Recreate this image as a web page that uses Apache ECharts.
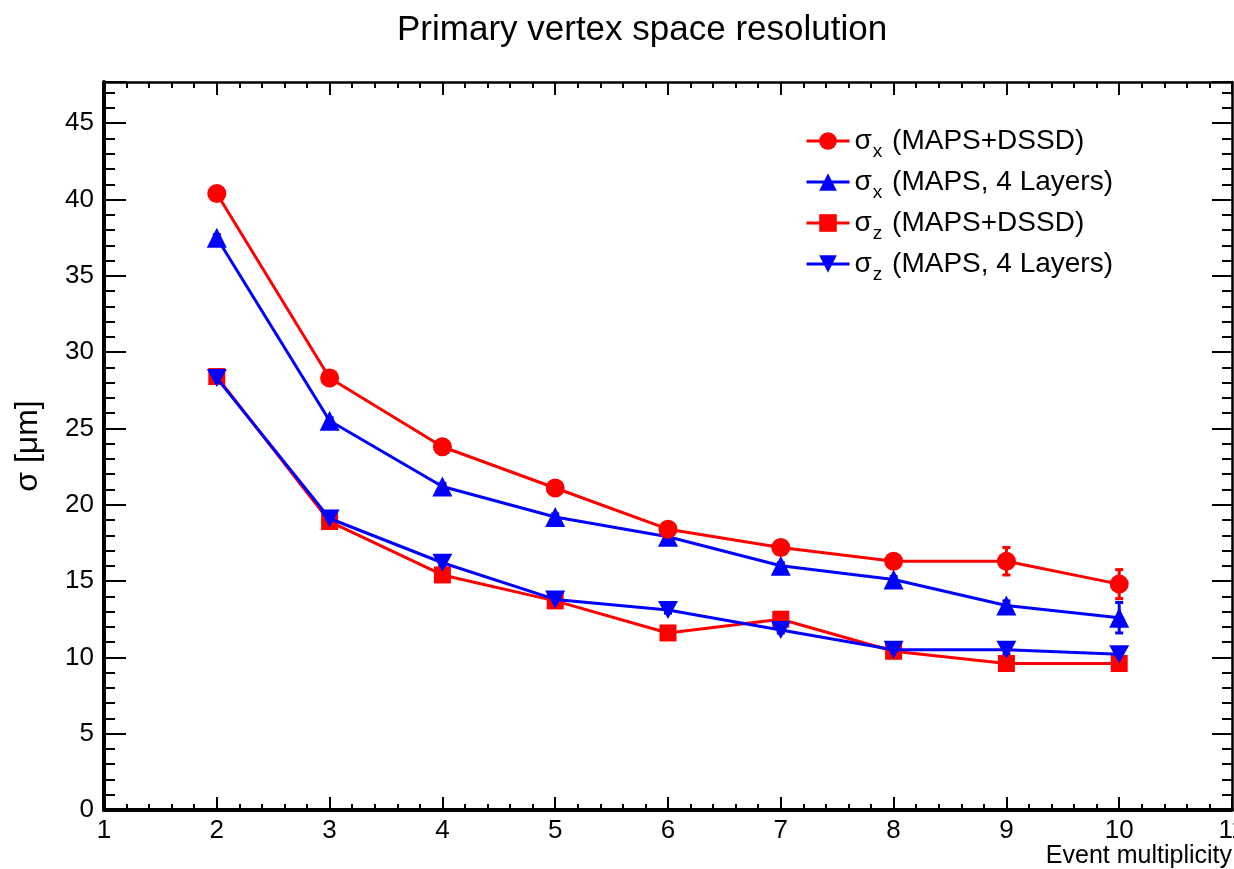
<!DOCTYPE html>
<html>
<head>
<meta charset="utf-8">
<title>Primary vertex space resolution</title>
<script src="https://cdn.jsdelivr.net/npm/echarts@6/dist/echarts.min.js"></script>
<style>
  html, body { margin: 0; padding: 0; background: #fff; overflow: hidden; }
  #main { width: 1234px; height: 869px; }
</style>
</head>
<body>
<div id="main"></div>
<script>
// event multiplicity
var multiplicity = [2, 3, 4, 5, 6, 7, 8, 9, 10];

// sigma x / sigma z in micrometers
var sigmaX_dssd = [40.4, 28.3, 23.8, 21.1, 18.4, 17.2, 16.3, 16.3, 14.8];
var sigmaX_dssd_err = [0.2, 0.2, 0.2, 0.2, 0.2, 0.2, 0.3, 0.9, 0.95];
var sigmaX_maps = [37.5, 25.5, 21.2, 19.2, 17.9, 16.0, 15.1, 13.4, 12.6];
var sigmaX_maps_err = [0.2, 0.2, 0.2, 0.2, 0.2, 0.2, 0.2, 0.3, 1.0];
var sigmaZ_dssd = [28.4, 18.9, 15.4, 13.7, 11.6, 12.5, 10.4, 9.6, 9.6];
var sigmaZ_dssd_err = [0.2, 0.2, 0.2, 0.2, 0.2, 0.2, 0.2, 0.3, 0.3];
var sigmaZ_maps = [28.3, 19.1, 16.2, 13.8, 13.1, 11.8, 10.5, 10.5, 10.2];
var sigmaZ_maps_err = [0.2, 0.2, 0.2, 0.2, 0.2, 0.2, 0.2, 0.3, 0.4];

var names = ['σx (MAPS+DSSD)', 'σx (MAPS, 4 Layers)', 'σz (MAPS+DSSD)', 'σz (MAPS, 4 Layers)'];

var RED = '#ff0000';
var BLUE = '#0000ff';
var FONT = 'Liberation Sans, Arial, Helvetica, sans-serif';

function pairs(xs, ys) {
	var out = [];
	for (var i = 0; i < xs.length; i++) out.push([xs[i], ys[i]]);
	return out;
}
function triples(xs, ys, es) {
	var out = [];
	for (var i = 0; i < xs.length; i++) out.push([xs[i], ys[i], es[i]]);
	return out;
}

// vertical error bars with small caps
function errorBar(color) {
	return function(params, api) {
		var x = api.value(0), y = api.value(1), e = api.value(2);
		var hi = api.coord([x, y + e]);
		var lo = api.coord([x, y - e]);
		var st = { stroke: color, lineWidth: 3 };
		return {
			type: 'group',
			children: [
				{ type: 'line', shape: { x1: hi[0], y1: hi[1], x2: lo[0], y2: lo[1] }, style: st },
				{ type: 'line', shape: { x1: hi[0] - 4, y1: hi[1], x2: hi[0] + 4, y2: hi[1] }, style: st },
				{ type: 'line', shape: { x1: lo[0] - 4, y1: lo[1], x2: lo[0] + 4, y2: lo[1] }, style: st }
			]
		};
	};
}

var downTriangle = 'path://M0,0 L10,0 L5,9 Z';

var myChart = echarts.init(document.getElementById('main'), null, { width: 1234, height: 869 });
var option = {
	backgroundColor: '#fff',
	animation: false,
	title: {
		text: 'Primary vertex space resolution',
		left: 392,
		top: 8,
		textStyle: { fontFamily: FONT, fontSize: 35, fontWeight: 'normal', color: '#000' }
	},
	legend: {
		orient: 'vertical',
		left: 800,
		top: 122,
		itemWidth: 43,
		itemHeight: 22,
		itemGap: 7,
		data: names,
		lineStyle: { width: 3 },
		formatter: function(name) {
			return '{n|σ}{s|' + name.charAt(1) + '}{t|' + name.slice(2) + '}';
		},
		textStyle: {
			color: '#000',
			rich: {
				n: { fontFamily: FONT, fontSize: 28, lineHeight: 30, color: '#000' },
				s: { fontFamily: FONT, fontSize: 19, lineHeight: 19, verticalAlign: 'bottom', color: '#000', padding: [0, 2, -5, 1] },
				t: { fontFamily: FONT, fontSize: 28, lineHeight: 30, color: '#000' }
			}
		}
	},
	grid: { left: 104, right: 2, top: 82, bottom: 59, outerBoundsMode: 'none', containLabel: false },
	xAxis: [{
		type: 'value',
		min: 1,
		max: 11,
		interval: 1,
		name: 'Event multiplicity',
		nameLocation: 'end',
		nameGap: 0,
		nameTextStyle: { fontFamily: FONT, fontSize: 25, color: '#000', align: 'right', verticalAlign: 'top', padding: [34, 0, 0, 0] },
		axisLine: { show: true, onZero: false, lineStyle: { color: '#000', width: 4 } },
		axisTick: { inside: true, length: 13, lineStyle: { color: '#000', width: 2 } },
		minorTick: { show: true, splitNumber: 5, length: 6, lineStyle: { color: '#000', width: 2 } },
		axisLabel: { margin: 8, fontFamily: FONT, fontSize: 26, color: '#000' },
		splitLine: { show: false }
	}, {
		type: 'value',
		position: 'top',
		min: 1,
		max: 11,
		interval: 1,
		axisLine: { show: true, onZero: false, lineStyle: { color: '#000', width: 2.5 } },
		axisTick: { inside: true, length: 13, lineStyle: { color: '#000', width: 2 } },
		minorTick: { show: true, splitNumber: 5, length: 6, lineStyle: { color: '#000', width: 2 } },
		axisLabel: { show: false },
		splitLine: { show: false }
	}],
	yAxis: [{
		type: 'value',
		min: 0,
		max: 47.7,
		interval: 5,
		name: 'σ [μm]',
		nameLocation: 'middle',
		nameGap: 60,
		nameTextStyle: { fontFamily: FONT, fontSize: 32, color: '#000' },
		axisLine: { show: true, onZero: false, lineStyle: { color: '#000', width: 4 } },
		axisTick: { inside: true, length: 22, lineStyle: { color: '#000', width: 2 } },
		minorTick: { show: true, splitNumber: 5, length: 11, lineStyle: { color: '#000', width: 2 } },
		axisLabel: { margin: 10, fontFamily: FONT, fontSize: 26, color: '#000', showMaxLabel: false },
		splitLine: { show: false }
	}, {
		type: 'value',
		position: 'right',
		min: 0,
		max: 47.7,
		interval: 5,
		axisLine: { show: true, onZero: false, lineStyle: { color: '#000', width: 2.5 } },
		axisTick: { inside: true, length: 20, lineStyle: { color: '#000', width: 2 } },
		minorTick: { show: true, splitNumber: 5, length: 10, lineStyle: { color: '#000', width: 2 } },
		axisLabel: { show: false },
		splitLine: { show: false }
	}],
	series: [
		{
			type: 'custom', name: 'err1', renderItem: errorBar(RED), z: 1,
			data: triples(multiplicity, sigmaX_dssd, sigmaX_dssd_err)
		},
		{
			type: 'custom', name: 'err2', renderItem: errorBar(BLUE), z: 1,
			data: triples(multiplicity, sigmaX_maps, sigmaX_maps_err)
		},
		{
			type: 'custom', name: 'err3', renderItem: errorBar(RED), z: 1,
			data: triples(multiplicity, sigmaZ_dssd, sigmaZ_dssd_err)
		},
		{
			type: 'custom', name: 'err4', renderItem: errorBar(BLUE), z: 1,
			data: triples(multiplicity, sigmaZ_maps, sigmaZ_maps_err)
		},
		{
			type: 'line', name: names[0], z: 5,
			data: pairs(multiplicity, sigmaX_dssd),
			symbol: 'circle', symbolSize: 19,
			lineStyle: { color: RED, width: 3 },
			itemStyle: { color: RED }
		},
		{
			type: 'line', name: names[1], z: 4,
			data: pairs(multiplicity, sigmaX_maps),
			symbol: 'triangle', symbolSize: 20,
			lineStyle: { color: BLUE, width: 3 },
			itemStyle: { color: BLUE }
		},
		{
			type: 'line', name: names[2], z: 3,
			data: pairs(multiplicity, sigmaZ_dssd),
			symbol: 'rect', symbolSize: 17,
			lineStyle: { color: RED, width: 3 },
			itemStyle: { color: RED }
		},
		{
			type: 'line', name: names[3], z: 4,
			data: pairs(multiplicity, sigmaZ_maps),
			symbol: downTriangle, symbolSize: [20, 18],
			lineStyle: { color: BLUE, width: 3 },
			itemStyle: { color: BLUE }
		}
	]
};
myChart.setOption(option);
</script>
</body>
</html>
